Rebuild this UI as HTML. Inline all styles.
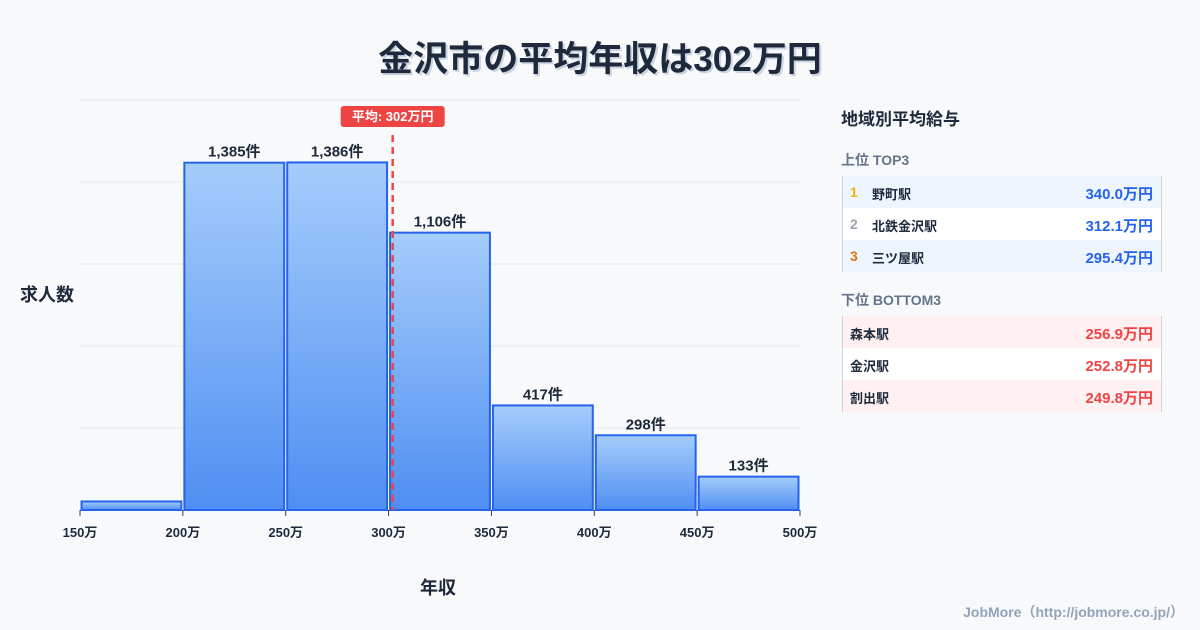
<!DOCTYPE html>
<html><head><meta charset="utf-8"><style>
body{margin:0;width:1200px;height:630px;background:#f8f9fb;font-family:"Liberation Sans","Noto Sans CJK JP",sans-serif;position:relative;overflow:hidden;color:#1e293b}
.t{position:absolute;white-space:nowrap}
.tbl{position:absolute;left:842px;width:318px;border-left:1px solid #cbd5e1;border-right:1px solid #cbd5e1}
.row{height:32px;position:relative;font-size:13px;font-weight:700}
.row span{position:absolute;top:8px}
.row .v{right:8px;font-size:15px;top:7px}
</style></head><body>
<div class="t" style="left:0;width:1200px;text-align:center;top:31px;font-size:35px;font-weight:700;color:#1e293b;text-shadow:2px 2px 0 #cbd5e1">金沢市の平均年収は302万円</div>
<div class="t" style="left:20px;top:281px;font-size:18px;font-weight:700">求人数</div>
<div class="t" style="left:420px;top:574px;font-size:18px;font-weight:700">年収</div>
<svg id="chart" width="830" height="560" style="position:absolute;left:0;top:0">
<defs><linearGradient id="g" x1="0" y1="0" x2="0" y2="1"><stop offset="0" stop-color="#a5cdfb"/><stop offset="1" stop-color="#4f8ef2"/></linearGradient></defs>
</svg>
<div class="t" style="left:841px;top:105px;font-size:17px;font-weight:700">地域別平均給与</div>
<div class="t" style="left:841px;top:150px;font-size:14px;font-weight:700;color:#64748b">上位 TOP3</div>
<div class="tbl" style="top:176px">
<div class="row" style="background:#eef5ff"><span style="left:7px;color:#eab308;font-size:14px">1</span><span style="left:29px">野町駅</span><span class="v" style="color:#2563eb">340.0万円</span></div>
<div class="row" style="background:#fff"><span style="left:7px;color:#9ca3af;font-size:14px">2</span><span style="left:29px">北鉄金沢駅</span><span class="v" style="color:#2563eb">312.1万円</span></div>
<div class="row" style="background:#eef5ff"><span style="left:7px;color:#d97706;font-size:14px">3</span><span style="left:29px">三ツ屋駅</span><span class="v" style="color:#2563eb">295.4万円</span></div>
</div>
<div class="t" style="left:841px;top:290px;font-size:14px;font-weight:700;color:#64748b">下位 BOTTOM3</div>
<div class="tbl" style="top:316px">
<div class="row" style="background:#fff1f1"><span style="left:7px">森本駅</span><span class="v" style="color:#ef4444">256.9万円</span></div>
<div class="row" style="background:#fff"><span style="left:7px">金沢駅</span><span class="v" style="color:#ef4444">252.8万円</span></div>
<div class="row" style="background:#fff1f1"><span style="left:7px">割出駅</span><span class="v" style="color:#ef4444">249.8万円</span></div>
</div>
<div class="t" style="right:16px;top:602px;font-size:14px;font-weight:700;color:#94a3b8">JobMore（http://jobmore.co.jp/）</div>
<script>
const binEdges=[150,200,250,300,350,400,450,500];
const counts=[34,1385,1386,1106,417,298,133];
const countLabels=["","1,385件","1,386件","1,106件","417件","298件","133件"];
const meanValue=302;
const meanLabel="平均: 302万円";
const yMax=1635;
const svg=document.getElementById('chart');
const NS='http://www.w3.org/2000/svg';
const X0=80,X1=800,Y0=510,Y1=100;
const x=v=>X0+(v-150)/(500-150)*(X1-X0);
const y=v=>Y0-v/yMax*(Y0-Y1);
function mk(tag,attrs){const e=document.createElementNS(NS,tag);for(const k in attrs)e.setAttribute(k,attrs[k]);svg.appendChild(e);return e;}
for(let i=0;i<=5;i++){const gy=Y0-(Y0-Y1)*i/5;
const l=mk('line',{x1:X0,x2:X1,y1:gy,y2:gy,stroke:'#e2e8f0','stroke-width':1});

}
counts.forEach((c,i)=>{const xa=x(binEdges[i])+1.5,xb=x(binEdges[i+1])-1.5;
const r=mk('rect',{x:xa,y:y(c),width:xb-xa,height:Y0-y(c),fill:'url(#g)',stroke:'#2563eb','stroke-width':2});


if(countLabels[i]){const t=mk('text',{x:(xa+xb)/2,y:y(c)-6,'text-anchor':'middle','font-size':15,'font-weight':700,fill:'#1e293b'});t.textContent=countLabels[i];

}});
binEdges.forEach(v=>{const tk=mk('line',{x1:x(v),x2:x(v),y1:Y0,y2:Y0+6,stroke:'#334155','stroke-width':1});


const t=mk('text',{x:x(v),y:537,'text-anchor':'middle','font-size':13,'font-weight':700,fill:'#1e293b'});t.textContent=v+'万';

});
const mx=x(meanValue);
const ml=mk('line',{x1:mx,x2:mx,y1:135,y2:Y0,stroke:'#ef4444','stroke-width':2.5,'stroke-dasharray':'7,5'});


const mb=mk('rect',{x:mx-52,y:106,width:104,height:21,rx:3,fill:'#ef4444'});


const mt=mk('text',{x:mx,y:121,'text-anchor':'middle','font-size':13,'font-weight':700,fill:'#fff'});mt.textContent=meanLabel;


</script>
</body></html>
